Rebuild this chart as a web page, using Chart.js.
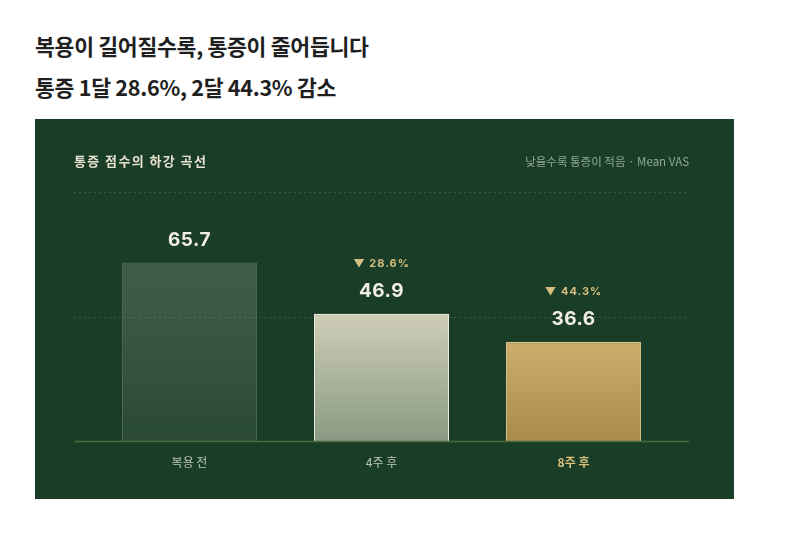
<!DOCTYPE html>
<html><head><meta charset="utf-8">
<script src="https://cdn.jsdelivr.net/npm/chart.js@4"></script>
<style>
html,body{margin:0;padding:0;background:#fff;}
body{width:785px;height:547px;position:relative;overflow:hidden;font-family:'Noto Sans CJK KR','Noto Sans',sans-serif;}
.h{position:absolute;left:35px;font-weight:700;font-size:21.6px;color:#1f1f1f;letter-spacing:-0.3px;line-height:28px;white-space:nowrap;}
#h1{top:32px}
#h2{top:73px}
#panel{position:absolute;left:35px;top:119px;width:699px;height:380px;background:#1a3d28;}
#ptitle{position:absolute;left:39px;top:33px;font-size:13px;font-weight:700;color:#e6e2cf;letter-spacing:1.4px;line-height:18px;white-space:nowrap;}
#psub{position:absolute;right:45px;top:34px;font-size:11.5px;color:#91a996;line-height:16px;white-space:nowrap;}
#chart{position:absolute;left:0;top:0;}
</style></head>
<body>
<div class="h" id="h1">복용이 길어질수록, 통증이 줄어듭니다</div>
<div class="h" id="h2">통증 1달 28.6%, 2달 44.3% 감소</div>
<div id="panel">
  <canvas id="chart" width="699" height="380"></canvas>
  <div id="ptitle">통증 점수의 하강 곡선</div>
  <div id="psub">낮을수록 통증이 적음 · Mean VAS</div>
</div>
<script>
// ---- data ----
const categories = ['복용 전', '4주 후', '8주 후'];
const values = [65.7, 46.9, 36.6];
const changeLabels = ['', '▼ 28.6%', '▼ 44.3%'];
const yTicks = [0, 45.75, 91.5];

// ---- styles ----
const gradTop = ['rgba(255,255,255,0.17)', '#cfceb7', '#cfae6c'];
const gradBottom = ['rgba(255,255,255,0.07)', '#8a9a82', '#a98a4c'];
const borderColors = ['rgba(255,255,255,0.22)', '#efeedd', '#dcc285'];
const borderWidths = [
  {top:1, left:1, right:1, bottom:0},
  {top:2, left:1, right:1, bottom:0},
  {top:2, left:1, right:1, bottom:0}
];
const GRID_INSET = 19.5;

const decoPlugin = {
  id: 'deco',
  beforeDatasetsDraw(chart) {
    const {ctx, chartArea: a, scales: {y}} = chart;
    ctx.save();
    y.ticks.forEach(t => {
      if (t.value === 0) return;
      const py = Math.round(y.getPixelForValue(t.value)) + 0.5;
      ctx.beginPath();
      ctx.setLineDash([2, 3]);
      ctx.strokeStyle = 'rgba(255,255,255,0.14)';
      ctx.lineWidth = 1;
      ctx.moveTo(a.left - GRID_INSET, py);
      ctx.lineTo(a.right + GRID_INSET, py);
      ctx.stroke();
    });
    ctx.restore();
  },
  afterDatasetsDraw(chart) {
    const {ctx, chartArea: a, scales: {y}} = chart;
    ctx.save();
    const by = y.getPixelForValue(0);
    ctx.setLineDash([]);
    ctx.strokeStyle = '#4c6b3c';
    ctx.lineWidth = 1.5;
    ctx.beginPath();
    ctx.moveTo(a.left - GRID_INSET, by);
    ctx.lineTo(a.right + GRID_INSET, by);
    ctx.stroke();
    const meta = chart.getDatasetMeta(0);
    ctx.textAlign = 'center';
    ctx.textBaseline = 'middle';
    meta.data.forEach((el, i) => {
      ctx.letterSpacing = '0.5px';
      ctx.fillStyle = '#f1eee2';
      ctx.font = '700 19px Inter, "Noto Sans", sans-serif';
      ctx.fillText(values[i].toFixed(1), el.x, el.y - 22);
      if (changeLabels[i]) {
        ctx.letterSpacing = '1px';
        ctx.fillStyle = '#d6be7e';
        ctx.font = '700 11px Inter, "Noto Sans", sans-serif';
        ctx.fillText(changeLabels[i], el.x, el.y - 50);
      }
    });
    ctx.restore();
  }
};

function barGradient(c) {
  const chart = c.chart;
  const y = chart.scales && chart.scales.y;
  const i = c.dataIndex;
  if (!y || !chart.chartArea) return gradTop[i];
  const top = y.getPixelForValue(values[i]);
  const bottom = y.getPixelForValue(0);
  const g = chart.ctx.createLinearGradient(0, top, 0, bottom);
  g.addColorStop(0, gradTop[i]);
  g.addColorStop(1, gradBottom[i]);
  return g;
}

new Chart(document.getElementById('chart'), {
  type: 'bar',
  data: {
    labels: categories,
    datasets: [{
      data: values,
      backgroundColor: barGradient,
      borderColor: borderColors,
      borderWidth: borderWidths,
      borderSkipped: false,
      barPercentage: 0.703,
      categoryPercentage: 1
    }]
  },
  options: {
    responsive: false,
    animation: false,
    devicePixelRatio: 1,
    layout: { padding: { left: 58.5, right: 64.5, top: 73, bottom: 15 } },
    plugins: { legend: { display: false }, tooltip: { enabled: false } },
    scales: {
      x: {
        grid: { display: false, drawTicks: false },
        border: { display: false },
        ticks: {
          padding: 14,
          color: c => c.index === 2 ? '#d9c07b' : '#bcc6b8',
          font: c => ({ family: '"Noto Sans CJK KR", sans-serif', size: 12, weight: c.index === 2 ? '700' : '400' })
        }
      },
      y: {
        display: false,
        min: 0,
        max: yTicks[yTicks.length - 1],
        afterBuildTicks: s => { s.ticks = yTicks.map(v => ({ value: v })); }
      }
    }
  },
  plugins: [decoPlugin]
});
</script>
</body></html>
